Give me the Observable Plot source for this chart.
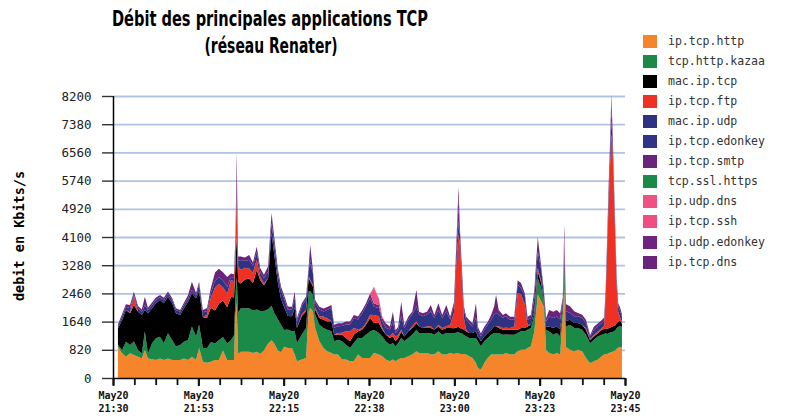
<!DOCTYPE html>
<html>
<head>
<meta charset="utf-8">
<script src="https://cdn.jsdelivr.net/npm/d3@7"></script>
<script src="https://cdn.jsdelivr.net/npm/@observablehq/plot@0.6"></script>
<style>
  body { margin: 0; background: #fff; }
  #wrap { position: relative; width: 785px; height: 416px; overflow: hidden; background: #fff; }
  #chart { position: absolute; left: 0; top: 0; }
  #overlay { position: absolute; left: 0; top: 0; }
  .lg-sw { position: absolute; width: 14px; height: 13px; }
  .lg-tx { position: absolute; font-family: "DejaVu Sans Mono", monospace; font-size: 11.5px; line-height: 13px; color: #333; white-space: nowrap; }
</style>
</head>
<body>
<div id="wrap">
  <div id="chart"></div>
  <svg id="overlay" width="785" height="416">
    <text x="270" y="26" text-anchor="middle" font-family="'Liberation Sans Narrow', 'DejaVu Sans Condensed', 'Liberation Sans', sans-serif" font-weight="bold" font-size="22" textLength="316" lengthAdjust="spacingAndGlyphs" fill="#000">Débit des principales applications TCP</text>
    <text x="271" y="53" text-anchor="middle" font-family="'Liberation Sans Narrow', 'DejaVu Sans Condensed', 'Liberation Sans', sans-serif" font-weight="bold" font-size="22" textLength="133" lengthAdjust="spacingAndGlyphs" fill="#000">(réseau Renater)</text>
    <text transform="translate(19,236) rotate(-90)" text-anchor="middle" dominant-baseline="central" font-family="'DejaVu Sans Mono', monospace" font-weight="bold" font-size="13.5" fill="#000">debit en Kbits/s</text>
  </svg>
</div>
<script>
// ---- Series names and colours (legend order = stacking order, bottom to top)
const seriesNames = ["ip.tcp.http","tcp.http.kazaa","mac.ip.tcp","ip.tcp.ftp","mac.ip.udp","ip.tcp.edonkey","ip.tcp.smtp","tcp.ssl.https","ip.udp.dns","ip.tcp.ssh","ip.udp.edonkey","ip.tcp.dns"];
const seriesColors = ["#f5842a","#1b8a48","#000000","#ef3124","#2d3282","#2f3486","#6b247c","#1b8a48","#ee5284","#ee4f80","#6d2580","#6b247d"];

// ---- Y ticks (Kbits/s) and X ticks (minutes after May20 21:30)
const yTicks = [0,820,1640,2460,3280,4100,4920,5740,6560,7380,8200];
const xMajorTicks = [0,22.5,45,67.5,90,112.5,135];
const xTickLabels = ["May20\n21:30","May20\n21:53","May20\n22:15","May20\n22:38","May20\n23:00","May20\n23:23","May20\n23:45"];
const xMinorTicks = [0,5.625,11.25,16.875,22.5,28.125,33.75,39.375,45,50.625,56.25,61.875,67.5,73.125,78.75,84.375,90,95.625,101.25,106.875,112.5,118.125,123.75,129.375,135];

// ---- Sample times (minutes after 21:30)
const times = [
1.3,2.4,3.4,4.5,5.5,6.6,7.6,8.4,9.2,10.3,
11.3,12.4,13.4,14.5,15.6,16.6,17.7,18.7,19.8,20.8,
21.9,22.7,23.7,24.8,25.8,26.9,27.9,29.0,30.1,31.1,
31.9,32.3,32.6,33.0,33.7,34.8,35.9,36.9,37.9,38.8,
39.8,40.9,41.8,42.5,43.5,44.3,45.1,46.1,47.2,47.9,
48.5,49.8,50.9,51.6,52.0,52.7,53.3,54.4,55.5,56.5,
57.6,58.3,59.3,60.4,61.4,62.5,63.5,64.6,65.7,66.7,
67.8,68.8,70.1,71.0,71.9,73.0,73.8,74.5,75.2,76.0,
76.8,77.9,78.9,80.0,80.7,81.7,82.8,83.8,84.7,85.8,
86.8,87.9,88.9,89.9,90.6,91.1,91.5,92.0,92.5,93.1,
93.9,94.8,95.7,96.2,97.0,97.9,98.8,99.7,100.5,101.0,
101.7,102.8,103.6,104.7,105.8,106.7,107.6,108.6,109.3,110.2,
111.1,112.0,112.9,113.6,114.2,115.0,116.1,117.0,117.9,118.6,
119.0,119.4,120.5,121.6,122.6,123.7,124.7,125.8,126.8,127.9,
128.9,129.5,129.9,130.3,130.7,131.1,131.4,131.7,132.0,132.4,
132.8,133.2,133.7,134.2];

// ---- Dense series (Kbits/s, one value per sample time)
const ipTcpHttp = [
910,720,620,720,670,620,570,815,570,545,
525,570,525,570,525,525,525,570,525,620,
525,870,470,440,470,520,520,800,520,520,
520,1800,2180,700,765,765,765,730,760,700,
800,1000,1100,1000,800,750,910,875,875,680,
485,535,580,1940,2035,1940,1455,1065,875,775,
730,680,680,535,535,485,485,680,580,580,
580,725,680,630,535,485,535,485,535,580,
580,630,680,775,730,730,730,680,680,775,
680,680,730,700,720,720,700,700,700,680,
630,580,435,290,240,435,580,680,680,680,
680,680,730,680,680,775,825,825,870,920,
1355,2425,2230,2075,815,725,680,725,680,1800,
2655,900,825,775,825,775,580,430,485,535,
630,680,700,700,720,740,750,760,780,800,
850,880,900,900];
const tcpHttpKazaa = [
50,95,435,240,390,195,145,535,145,465,
630,630,485,730,580,390,435,485,580,875,
680,680,400,430,580,480,580,390,480,580,
720,600,770,1200,1260,1260,1260,1230,1230,1250,
1150,1000,1000,900,900,800,485,535,485,680,
535,730,875,580,485,485,390,485,580,630,
630,390,435,535,435,390,535,485,580,680,
775,675,630,580,535,485,485,435,485,580,
485,535,580,630,580,580,580,630,580,580,
580,630,580,600,600,620,600,600,550,535,
535,580,730,775,680,630,580,580,630,630,
630,580,535,580,580,535,535,535,535,535,
485,485,390,100,580,630,580,580,535,200,
485,600,725,680,630,630,680,580,630,680,
630,600,600,580,580,580,580,580,580,580,
600,600,620,580];
const macIpTcp = [
485,875,920,920,1065,1115,1115,630,1165,1020,
1020,1065,1165,1065,1065,970,875,970,1115,970,
1115,970,900,880,990,960,1060,1060,1060,1260,
1100,900,1160,900,725,840,870,800,1150,900,
750,900,2100,1700,1050,750,680,390,435,680,
435,535,485,390,290,240,145,195,240,240,
290,195,145,195,195,195,240,195,240,290,
390,200,290,195,195,195,195,145,145,195,
145,195,195,195,195,145,145,145,145,145,
145,145,145,150,150,150,150,150,150,145,
145,145,195,145,145,145,145,145,195,195,
145,145,145,145,145,95,95,95,95,95,
95,195,145,50,100,145,195,195,195,100,
195,150,145,145,145,145,145,90,95,95,
145,145,150,150,150,150,150,150,150,150,
150,150,150,100];
const ipTcpFtp = [
0,0,0,30,240,0,0,0,0,0,
0,0,0,0,0,0,0,0,0,0,
0,0,0,95,290,670,580,390,390,480,
480,500,1160,450,390,340,290,300,300,100,
50,0,0,0,0,0,0,0,0,0,
0,50,50,50,50,50,50,50,95,95,
0,0,50,50,195,290,195,50,50,50,
95,230,195,50,0,50,95,145,95,50,
0,0,50,50,0,0,50,50,0,50,
50,50,95,450,2000,2700,2400,1400,350,50,
0,0,0,0,0,0,0,0,0,0,
50,50,50,50,95,1065,970,680,50,0,
0,95,50,0,0,0,0,0,0,0,
0,0,0,0,0,0,50,30,50,50,
50,100,850,2300,3700,4800,5600,5300,4200,2600,
1050,300,100,50];
const macIpUdp = [
70,95,95,115,50,95,95,145,95,95,
95,80,95,80,95,95,95,95,95,95,
80,195,140,95,145,195,195,195,195,100,
100,200,200,150,290,200,250,200,220,150,
150,200,310,300,250,250,240,195,195,290,
195,240,290,195,460,340,145,195,145,240,
390,195,195,195,195,195,290,290,435,485,
485,240,240,195,195,195,340,95,145,390,
240,340,340,435,340,340,340,435,340,435,
290,435,145,200,400,250,300,250,250,290,
290,195,390,195,145,195,240,290,340,390,
340,290,340,240,195,240,195,240,145,195,
390,485,340,200,150,290,290,290,290,150,
195,300,195,195,195,195,145,80,145,145,
145,150,200,250,300,400,300,300,250,250,
200,150,180,150];
const ipTcpSmtp = [
50,75,75,95,95,70,70,240,70,70,
70,70,60,70,60,50,50,70,95,240,
70,85,70,95,145,240,240,240,290,100,
100,200,390,130,100,100,140,100,160,100,
100,150,270,210,140,110,100,85,85,185,
85,85,85,85,425,85,85,85,85,85,
85,85,85,85,85,85,85,85,85,85,
135,95,85,85,135,85,280,85,85,425,
85,85,85,475,85,85,85,185,85,185,
85,185,85,100,230,420,150,100,100,85,
85,85,425,85,85,85,85,135,235,525,
135,85,85,85,85,135,135,85,85,85,
235,395,85,135,100,185,185,185,185,100,
350,200,195,145,95,95,95,40,85,85,
85,85,100,120,210,330,270,210,140,120,
100,90,100,70];

// ---- Sparse series: [minute, Kbits/s]; absent samples are 0
const ipTcpEdonkey = [[52.0,120],[91.1,100],[131.4,100]];
const tcpSslHttps = [[41.8,30],[112.0,30]];
const ipUdpDns = [[68.8,430],[70.1,195],[71.0,50],[119.0,230]];
const ipTcpSsh = [[68.8,60],[119.0,60]];
const ipUdpEdonkey = [[32.6,300],[91.1,300],[131.4,300]];
const ipTcpDns = [[32.6,400],[91.1,300],[119.0,300],[131.4,200]];

const seriesData = [ipTcpHttp, tcpHttpKazaa, macIpTcp, ipTcpFtp, macIpUdp, ipTcpEdonkey, ipTcpSmtp, tcpSslHttps, ipUdpDns, ipTcpSsh, ipUdpEdonkey, ipTcpDns];

// ---- Long table for the stack
const table = [];
seriesNames.forEach((name, k) => {
  const src = seriesData[k];
  const sparse = Array.isArray(src[0]);
  const lookup = sparse ? new Map(src) : null;
  times.forEach((t, i) => {
    const v = sparse ? (lookup.get(t) ?? 0) : (src[i] ?? 0);
    table.push({t, s: name, v});
  });
});

const monoFont = "'DejaVu Sans Mono', monospace";

const chart = Plot.plot({
  width: 640,
  height: 416,
  marginLeft: 113,
  marginRight: 15,
  marginTop: 96,
  marginBottom: 38,
  style: {background: "transparent", overflow: "visible"},
  x: {domain: [0, 135], label: null},
  y: {domain: [0, 8200], label: null},
  color: {domain: seriesNames, range: seriesColors},
  marks: [
    Plot.ruleY(yTicks.filter(d => d > 0), {stroke: "#afc3e6", strokeWidth: 1.8}),
    Plot.areaY(table, Plot.stackY({x: "t", y: "v", z: "s", fill: "s", order: seriesNames})),
    Plot.axisY(yTicks, {
      tickSize: 11, tickPadding: 11, label: null,
      tickFormat: d => String(d),
      stroke: "#333", strokeWidth: 1.4,
      fill: "#222", fontFamily: monoFont, fontSize: 12.5
    }),
    Plot.axisX(xMinorTicks, {
      tickSize: 7, label: null, tickFormat: () => "",
      stroke: "#111", strokeWidth: 1.8
    }),
    Plot.axisX(xMajorTicks, {
      tickSize: 8, tickPadding: 3, label: null,
      tickFormat: d => xTickLabels[xMajorTicks.indexOf(d)],
      stroke: "#111", strokeWidth: 2,
      fill: "#111", fontFamily: monoFont, fontSize: 10, fontWeight: "bold", lineHeight: 1.3
    }),
    Plot.ruleX([0], {stroke: "#000", strokeWidth: 1.5}),
    Plot.ruleY([0], {stroke: "#000", strokeWidth: 1.5})
  ]
});
document.getElementById("chart").appendChild(chart);

// ---- Legend
const wrap = document.getElementById("wrap");
seriesNames.forEach((name, i) => {
  const top = 34.5 + i * 20.1;
  const sw = document.createElement("div");
  sw.className = "lg-sw";
  sw.style.left = "643px";
  sw.style.top = top + "px";
  sw.style.background = seriesColors[i];
  wrap.appendChild(sw);
  const tx = document.createElement("div");
  tx.className = "lg-tx";
  tx.style.left = "668px";
  tx.style.top = top + "px";
  tx.textContent = name;
  wrap.appendChild(tx);
});
</script>
</body>
</html>
